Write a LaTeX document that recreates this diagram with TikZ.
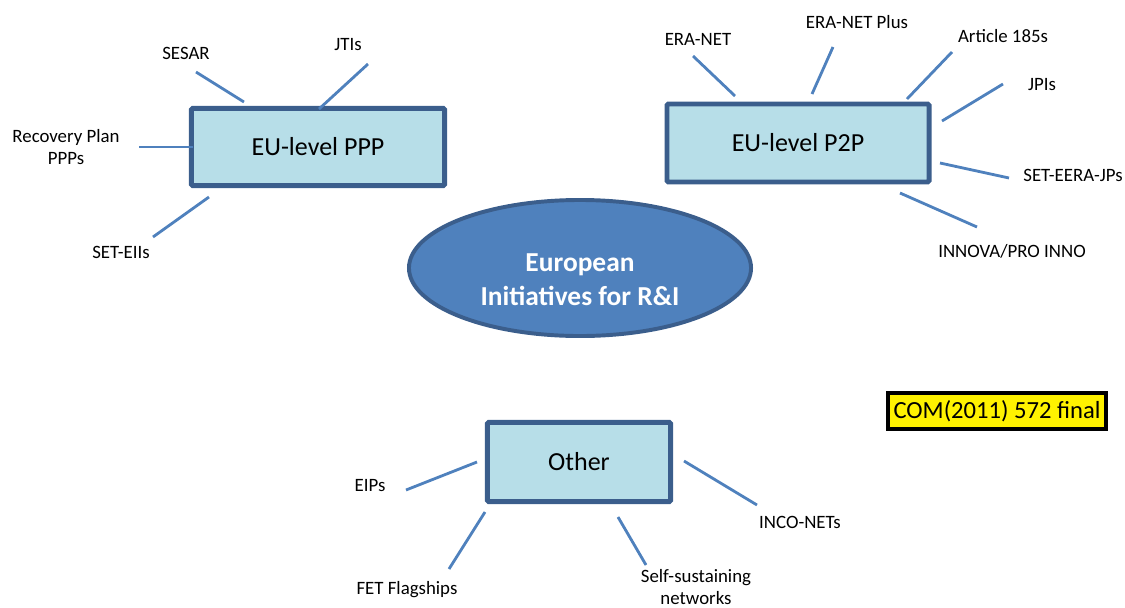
\documentclass[tikz,border=0pt]{standalone}
\usepackage{fontspec}
\setmainfont{Carlito}
\usetikzlibrary{shapes.geometric}
\definecolor{boxfill}{HTML}{B7DEE8}
\definecolor{boxline}{HTML}{3B5E8C}
\definecolor{ovalfill}{HTML}{4F81BD}
\definecolor{spoke}{HTML}{4F81BD}
\begin{document}
\begin{tikzpicture}[x=0.025cm,y=-0.025cm,
  group/.style={draw=boxline,fill=boxfill,line width=3.5pt,rounded corners=1pt,
    font=\fontsize{18.5}{22}\selectfont,inner sep=0pt},
  item/.style={font=\fontsize{13.4}{15}\selectfont,align=center,inner sep=1pt},
  spokeline/.style={spoke,line width=2pt}]
  \useasboundingbox (0,0) rectangle (1125,607);
  % central oval
  \node[ellipse,draw=boxline,fill=ovalfill,line width=2.8pt,minimum width=8.55cm,
        minimum height=3.4cm] (core) at (580,268) {};
  \node[text=white,font=\fontsize{19.5}{24}\selectfont\bfseries,align=center]
        (coretxt) at (580,280) {European\\Initiatives for R\&I};
  % the three groups
  \node[group,minimum width=6.33cm,minimum height=1.93cm] (ppp) at (318,147) {EU-level PPP};
  \node[group,minimum width=6.55cm,minimum height=1.95cm] (p2p) at (798,143) {EU-level P2P};
  \node[group,minimum width=4.58cm,minimum height=1.98cm] (oth) at (579,462) {Other};
  % reference tag
  \node[draw=black,fill=yellow,line width=2.2pt,minimum width=5.45cm,minimum height=0.9cm,
        inner sep=0pt,font=\fontsize{17.5}{20}\selectfont] (com) at (997,411) {COM(2011) 572 final};
  % PPP items
  \node[item] (sesar) at (186,53) {SESAR};
  \node[item] (jti) at (348,45) {JTIs};
  \node[item] (recov) at (66,147) {Recovery Plan\\PPPs};
  \node[item] (eii) at (121,252) {SET-EIIs};
  % P2P items
  \node[item] (eranet) at (698,39) {ERA-NET};
  \node[item] (eraplus) at (857,22) {ERA-NET Plus};
  \node[item] (art) at (1003,36) {Article 185s};
  \node[item] (jpi) at (1042,85) {JPIs};
  \node[item] (eera) at (1073,175) {SET-EERA-JPs};
  \node[item] (innova) at (1012,251) {INNOVA/PRO INNO};
  % other items
  \node[item] (eip) at (370,486) {EIPs};
  \node[item] (fet) at (407,590) {FET Flagships};
  \node[item] (selfsus) at (696,587) {Self-sustaining\\networks};
  \node[item] (inco) at (800,522) {INCO-NETs};
  % spoke ends
  \coordinate (s1a) at (196,72);  \coordinate (s1b) at (244,102);
  \coordinate (s2a) at (368,64);  \coordinate (s2b) at (319,109);
  \coordinate (s3a) at (139,147); \coordinate (s3b) at (193,147);
  \coordinate (s4a) at (153,237); \coordinate (s4b) at (209,197);
  \coordinate (t1a) at (693,56);  \coordinate (t1b) at (735,96);
  \coordinate (t2a) at (833,47);  \coordinate (t2b) at (812,94);
  \coordinate (t3a) at (952,52);  \coordinate (t3b) at (907,99);
  \coordinate (t4a) at (1003,84); \coordinate (t4b) at (942,121);
  \coordinate (t5a) at (1009,178);\coordinate (t5b) at (940,163);
  \coordinate (t6a) at (977,227); \coordinate (t6b) at (900,193);
  \coordinate (u1a) at (406,490); \coordinate (u1b) at (477,462);
  \coordinate (u2a) at (449,569); \coordinate (u2b) at (485,512);
  \coordinate (u3a) at (646,565); \coordinate (u3b) at (618,517);
  \coordinate (u4a) at (757,505); \coordinate (u4b) at (684,461);
  % spokes
  \foreach \a/\b in {s1a/s1b,s2a/s2b,s3a/s3b,s4a/s4b,t1a/t1b,t2a/t2b,t3a/t3b,
                     t4a/t4b,t5a/t5b,t6a/t6b,u1a/u1b,u2a/u2b,u3a/u3b,u4a/u4b}
    \draw[spokeline] (\a) -- (\b);
\end{tikzpicture}
\end{document}
